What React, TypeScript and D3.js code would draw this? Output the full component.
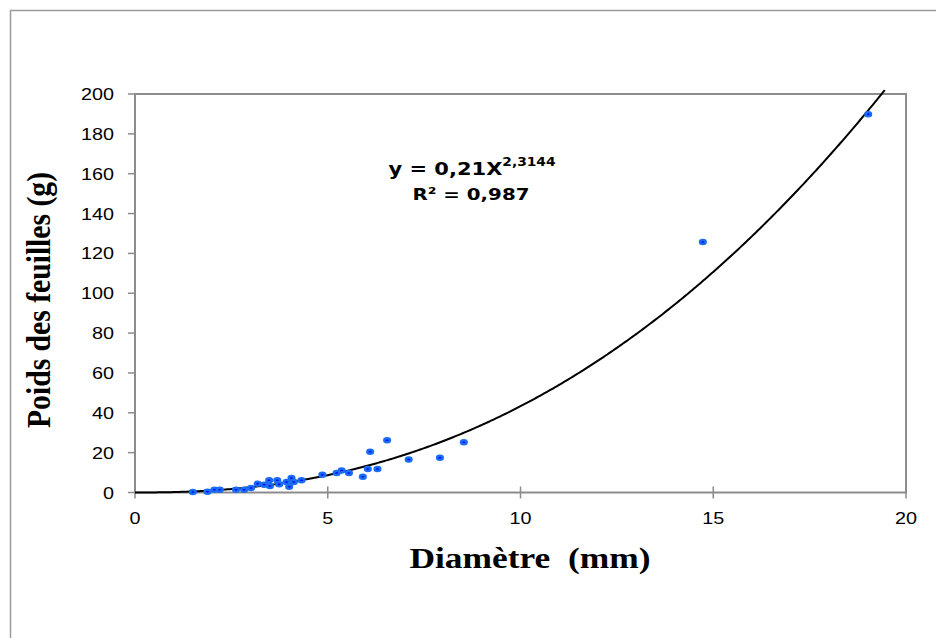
import React, { useRef, useEffect } from 'react';
import * as d3 from 'd3';

// measured values (diameter in mm, leaf weight in g)
const diametre = [1.5, 1.88, 2.06, 2.2, 2.62, 2.83, 3.01, 3.18, 3.35, 3.48, 3.5, 3.69, 3.74, 3.93, 4.0, 4.06, 4.12, 4.32, 4.86, 5.23, 5.36, 5.55, 5.91, 6.04, 6.1, 6.29, 6.54, 7.1, 7.91, 8.53, 14.73, 19.02];
const poids = [0.3, 0.4, 1.4, 1.4, 1.4, 1.4, 2.3, 4.4, 3.9, 6.1, 3.3, 6.1, 4.1, 5.3, 2.9, 7.3, 5.3, 6.1, 8.9, 9.8, 11, 9.8, 7.9, 11.8, 20.5, 11.8, 26.2, 16.5, 17.5, 25.2, 125.7, 189.8];

const xTicks = [0, 5, 10, 15, 20];
const yTicks = [0, 20, 40, 60, 80, 100, 120, 140, 160, 180, 200];

// power trendline y = a * x^b
const coefA = 0.21;
const coefB = 2.3144;
const trendEnd = 19.45;

const W = 936;
const H = 638;
const STRETCH = 1.2;

const App = () => {
  const svgRef = useRef<SVGSVGElement>(null);

  useEffect(() => {
    const svg = d3.select(svgRef.current);
    svg.selectAll('*').remove();

    const left = 135, right = 906, top = 94, bottom = 492.5;

    const x = d3.scaleLinear().domain([0, 20]).range([left, right]);
    const y = d3.scaleLinear().domain([0, 200]).range([bottom, top]);

    // outer frame (only top and left visible)
    svg.append('rect')
      .attr('x', 10.5).attr('y', 10.5)
      .attr('width', 1000).attr('height', 1000)
      .attr('fill', 'none')
      .attr('stroke', '#9a9a9a')
      .attr('stroke-width', 1.5);

    // plot frame
    svg.append('rect')
      .attr('x', left).attr('y', top)
      .attr('width', right - left).attr('height', bottom - top)
      .attr('fill', 'none')
      .attr('stroke', '#8c8c8c')
      .attr('stroke-width', 2);

    // y ticks + labels
    yTicks.forEach(t => {
      svg.append('line')
        .attr('x1', left - 7).attr('x2', left)
        .attr('y1', y(t)).attr('y2', y(t))
        .attr('stroke', '#8c8c8c').attr('stroke-width', 1.5);
      svg.append('text')
        .attr('transform', `translate(114, ${y(t) + 6}) scale(${STRETCH},1)`)
        .attr('text-anchor', 'end')
        .attr('font-family', 'Liberation Sans, Arial, sans-serif')
        .attr('font-size', 16.5)
        .attr('fill', '#000')
        .text(t);
    });

    // x ticks + labels
    xTicks.forEach(t => {
      svg.append('line')
        .attr('x1', x(t)).attr('x2', x(t))
        .attr('y1', bottom - 6).attr('y2', bottom + 6)
        .attr('stroke', '#8c8c8c').attr('stroke-width', 1.5);
      svg.append('text')
        .attr('transform', `translate(${x(t)}, 524) scale(${STRETCH},1)`)
        .attr('text-anchor', 'middle')
        .attr('font-family', 'Liberation Sans, Arial, sans-serif')
        .attr('font-size', 16.5)
        .attr('fill', '#000')
        .text(t);
    });

    // trendline
    const trend = d3.range(0, trendEnd + 0.001, 0.05).map(v => [v, coefA * Math.pow(v, coefB)] as [number, number]);
    svg.append('path')
      .datum(trend)
      .attr('d', d3.line<[number, number]>().x(d => x(d[0])).y(d => y(d[1])))
      .attr('fill', 'none')
      .attr('stroke', '#000')
      .attr('stroke-width', 2);

    // points
    svg.append('g')
      .selectAll('ellipse')
      .data(diametre.map((d, i) => ({ d, p: poids[i] })))
      .join('ellipse')
      .attr('cx', d => x(d.d))
      .attr('cy', d => y(d.p))
      .attr('rx', 2.8)
      .attr('ry', 2)
      .attr('fill', '#0000f0')
      .attr('stroke', '#1a6cf5')
      .attr('stroke-width', 2.5);

    // equation
    const eq = svg.append('text')
      .attr('transform', `translate(472, 175) scale(${STRETCH},1)`)
      .attr('text-anchor', 'middle')
      .attr('font-family', 'DejaVu Sans, Verdana, sans-serif')
      .attr('font-weight', 'bold')
      .attr('font-size', 17.5)
      .attr('fill', '#000');
    eq.append('tspan').text('y = 0,21X');
    eq.append('tspan').attr('font-size', 11.5).attr('dy', -9).text('2,3144');

    svg.append('text')
      .attr('transform', `translate(471, 200) scale(${STRETCH},1)`)
      .attr('text-anchor', 'middle')
      .attr('font-family', 'DejaVu Sans, Verdana, sans-serif')
      .attr('font-weight', 'bold')
      .attr('font-size', 16.5)
      .attr('fill', '#000')
      .text('R² = 0,987');

    // axis titles
    svg.append('text')
      .attr('transform', `translate(530, 568) scale(${STRETCH},1)`)
      .attr('text-anchor', 'middle')
      .attr('font-family', 'Liberation Serif, Times New Roman, serif')
      .attr('font-weight', 'bold')
      .attr('font-size', 29.5)
      .style('white-space', 'pre')
      .attr('fill', '#000')
      .text('Diamètre  (mm)');

    svg.append('text')
      .attr('transform', `translate(50, 300) scale(${STRETCH},1) rotate(-90)`)
      .attr('text-anchor', 'middle')
      .attr('font-family', 'Liberation Serif, Times New Roman, serif')
      .attr('font-weight', 'bold')
      .attr('font-size', 28)
      .attr('textLength', 256)
      .attr('lengthAdjust', 'spacingAndGlyphs')
      .attr('fill', '#000')
      .text('Poids des feuilles (g)');
  }, []);

  return (
    <svg
      ref={svgRef}
      width={W}
      height={H}
      style={{ position: 'absolute', left: 0, top: 0, background: '#fff' }}
    />
  );
};

export default App;
